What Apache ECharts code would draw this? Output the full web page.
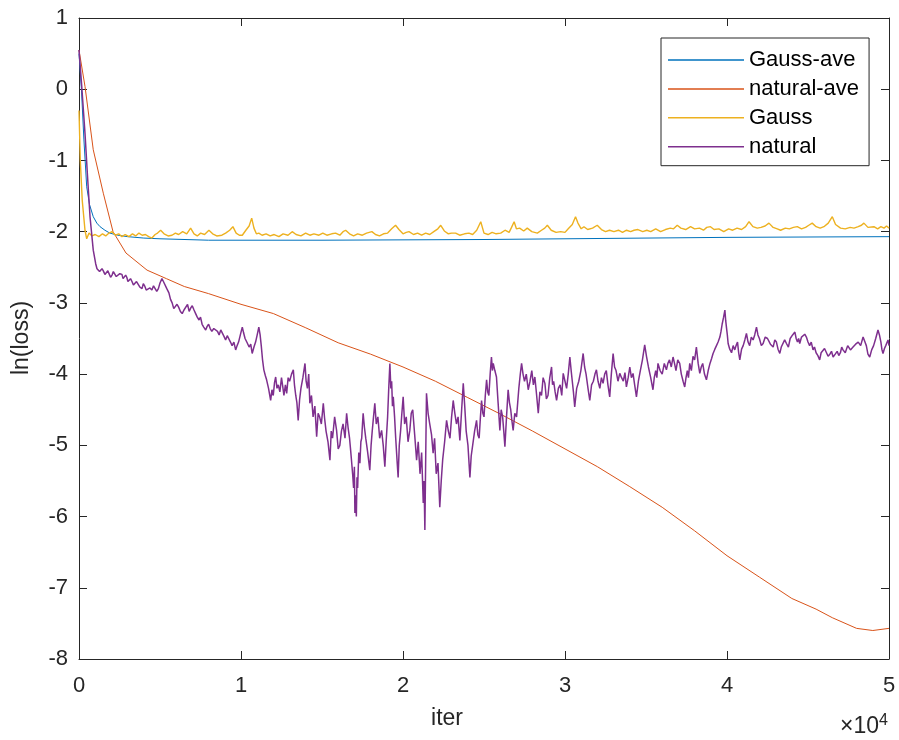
<!DOCTYPE html>
<html>
<head>
<meta charset="utf-8">
<title>ln(loss) vs iter</title>
<script src="https://cdn.jsdelivr.net/npm/echarts@6/dist/echarts.min.js"></script>
<style>
  html, body { margin: 0; padding: 0; background: #ffffff; }
  #chart { width: 899px; height: 740px; }
</style>
</head>
<body>
<div id="chart"></div>
<script>
// Axis ticks
const xTicks = [0, 10000, 20000, 30000, 40000, 50000];
const yTicks = [-8, -7, -6, -5, -4, -3, -2, -1, 0, 1];

// Series names
const seriesNames = ['Gauss-ave', 'natural-ave', 'Gauss', 'natural'];

// Running average of the Gauss loss, [iter, ln(loss)]
const gaussAve = [
  [0, 0.5], [150, 0.0], [300, -0.7], [475, -1.37], [650, -1.62], [880, -1.79],
  [1100, -1.88], [1300, -1.93], [1600, -1.98], [1900, -2.02], [2400, -2.05],
  [3000, -2.07], [4000, -2.09], [5000, -2.1], [8000, -2.12], [15000, -2.12],
  [25000, -2.11], [30000, -2.1], [35000, -2.09], [40000, -2.08], [45000, -2.075],
  [50000, -2.07]
];

// Running average of the natural loss
const naturalAve = [
  [0, 0.55], [370, 0.04], [880, -0.85], [1500, -1.46], [2100, -2.0], [2900, -2.3],
  [4200, -2.54], [5400, -2.66], [6500, -2.77], [8000, -2.87], [10000, -3.02],
  [12000, -3.15], [14000, -3.35], [16000, -3.56], [18000, -3.72], [20000, -3.9],
  [22000, -4.1], [24000, -4.33], [26000, -4.56], [28000, -4.8], [30000, -5.05],
  [32000, -5.3], [34000, -5.58], [36000, -5.87], [38000, -6.2], [40000, -6.55],
  [42000, -6.85], [44000, -7.15], [45500, -7.3], [46500, -7.42], [48000, -7.57],
  [49000, -7.6], [50000, -7.57]
];

// Per-iteration Gauss loss
const gaussLoss = [
  [0, -0.3], [80, -1.0], [200, -1.56], [370, -1.98], [475, -2.1], [620, -2.02], [800, -2.06],
  [1000, -2.04], [1230, -2.07], [1450, -2.03], [1650, -2.06], [1850, -2.02], [2040, -2.0],
  [2250, -2.05], [2450, -2.03], [2650, -2.07], [2850, -2.04], [3090, -2.07], [3300, -2.03],
  [3500, -2.06], [3700, -2.02], [3900, -2.05], [4100, -2.04], [4300, -2.07], [4500, -2.09],
  [4700, -2.04], [4850, -2.02], [5040, -1.98], [5250, -2.03], [5500, -2.06], [5740, -2.05],
  [5950, -2.02], [6150, -2.04], [6400, -2.0], [6650, -2.03], [6890, -1.95], [7100, -2.03],
  [7300, -2.06], [7510, -2.02], [7750, -2.04], [8020, -1.98], [8250, -2.03], [8500, -2.06],
  [8820, -2.05], [9050, -2.02], [9300, -1.98], [9500, -1.93], [9700, -2.02], [9900, -2.05],
  [10080, -2.05], [10300, -1.98], [10500, -1.92], [10660, -1.81], [10800, -1.95], [10950, -2.03],
  [11100, -2.02], [11300, -2.05], [11550, -2.03], [11800, -2.06], [12050, -2.04], [12340, -2.07],
  [12600, -2.03], [12900, -2.05], [13160, -2.0], [13400, -2.04], [13700, -2.06], [13990, -2.02],
  [14250, -2.05], [14500, -2.03], [14810, -2.05], [15050, -2.02], [15300, -2.05], [15600, -2.03],
  [15840, -2.02], [16100, -2.05], [16300, -2.0], [16460, -1.98], [16700, -2.03], [16950, -2.06],
  [17200, -2.03], [17490, -2.05], [17750, -2.02], [18080, -2.0], [18300, -2.04], [18550, -2.06],
  [18800, -2.03], [19050, -2.02], [19300, -1.96], [19540, -1.91], [19750, -1.97], [20000, -2.03],
  [20200, -2.01], [20370, -2.0], [20650, -2.04], [20900, -2.02], [21150, -2.05], [21400, -2.02],
  [21650, -2.04], [21900, -2.0], [22150, -1.96], [22330, -1.91], [22550, -1.99], [22800, -2.03],
  [23000, -2.02], [23250, -2.02], [23500, -2.05], [23800, -2.03], [24070, -2.02], [24300, -2.04],
  [24550, -1.98], [24800, -1.86], [25000, -2.02], [25250, -2.04], [25500, -2.01], [25750, -2.03],
  [26030, -2.02], [26300, -1.98], [26550, -2.01], [26700, -1.94], [26860, -1.86], [27000, -1.96],
  [27200, -1.95], [27450, -1.99], [27670, -1.95], [27950, -2.0], [28290, -2.02], [28550, -1.98],
  [28750, -1.95], [28910, -1.91], [29150, -1.98], [29450, -2.01], [29730, -2.0], [30000, -2.01],
  [30200, -1.96], [30450, -1.9], [30650, -1.79], [30800, -1.88], [31000, -1.96], [31170, -1.93],
  [31400, -1.97], [31700, -1.95], [31990, -1.91], [32250, -1.97], [32500, -2.0], [32750, -1.98],
  [33020, -2.0], [33300, -1.98], [33550, -2.01], [33800, -1.98], [34050, -2.0], [34260, -1.98],
  [34500, -1.97], [34800, -2.0], [35050, -1.98], [35290, -2.0], [35600, -1.96], [35900, -2.0],
  [36200, -1.97], [36500, -1.95], [36700, -1.96], [36930, -1.91], [37150, -1.95], [37450, -1.97],
  [37750, -1.93], [38000, -1.96], [38300, -1.95], [38550, -1.98], [38750, -1.94], [38980, -1.93],
  [39200, -1.97], [39500, -1.96], [39800, -2.0], [40100, -1.96], [40350, -1.98], [40620, -1.95],
  [40900, -1.97], [41150, -1.93], [41360, -1.86], [41600, -1.93], [41870, -1.95], [42100, -1.94],
  [42350, -1.92], [42590, -1.88], [42850, -1.94], [43100, -1.96], [43310, -1.98], [43600, -1.95],
  [43850, -1.96], [44100, -1.94], [44340, -1.93], [44600, -1.96], [44850, -1.94], [45050, -1.91],
  [45260, -1.88], [45500, -1.93], [45750, -1.95], [45980, -1.93], [46250, -1.88], [46500, -1.79],
  [46700, -1.9], [47010, -1.95], [47300, -1.96], [47600, -1.94], [47840, -1.95], [48100, -1.93],
  [48300, -1.91], [48450, -1.88], [48700, -1.94], [49070, -1.93], [49300, -1.96], [49500, -1.93],
  [49690, -1.95], [49850, -1.92], [50000, -1.95]
];

// Per-iteration natural loss
const naturalLoss = [
  [0, 0.55], [150, 0.1], [370, -0.62], [520, -1.2], [680, -1.79], [880, -2.26], [1030, -2.45],
  [1110, -2.52], [1190, -2.5], [1270, -2.56], [1350, -2.58], [1420, -2.52], [1500, -2.55],
  [1600, -2.6], [1700, -2.62], [1780, -2.55], [1850, -2.57], [1950, -2.64], [2040, -2.61],
  [2120, -2.56], [2200, -2.58], [2300, -2.63], [2400, -2.65], [2520, -2.59], [2650, -2.6],
  [2720, -2.66], [2800, -2.68], [2880, -2.61], [2950, -2.64], [3020, -2.7], [3100, -2.72],
  [3180, -2.66], [3270, -2.7], [3360, -2.75], [3450, -2.76], [3550, -2.7], [3650, -2.72],
  [3760, -2.78], [3890, -2.8], [3970, -2.73], [4050, -2.76], [4150, -2.82], [4250, -2.84],
  [4380, -2.79], [4500, -2.82], [4600, -2.76], [4700, -2.78], [4800, -2.84], [4900, -2.8],
  [5000, -2.72], [5120, -2.66], [5210, -2.7], [5300, -2.72], [5420, -2.8], [5550, -2.86],
  [5650, -2.95], [5750, -3.0], [5850, -3.08], [5960, -3.1], [6050, -3.02], [6150, -3.06],
  [6260, -3.12], [6370, -3.15], [6480, -3.1], [6600, -3.08], [6700, -3.02], [6800, -3.12],
  [6900, -3.07], [6990, -3.04], [7100, -3.1], [7200, -3.15], [7300, -3.2], [7410, -3.24],
  [7500, -3.2], [7600, -3.3], [7700, -3.34], [7820, -3.38], [7910, -3.33], [8000, -3.3],
  [8100, -3.36], [8200, -3.4], [8320, -3.36], [8440, -3.34], [8550, -3.4], [8650, -3.45],
  [8750, -3.38], [8850, -3.4], [8950, -3.47], [9050, -3.52], [9150, -3.46], [9250, -3.48],
  [9350, -3.55], [9450, -3.6], [9560, -3.55], [9670, -3.66], [9760, -3.6], [9850, -3.55],
  [9960, -3.45], [10080, -3.34], [10160, -3.42], [10250, -3.5], [10380, -3.56], [10500, -3.62],
  [10600, -3.58], [10690, -3.71], [10800, -3.62], [10900, -3.55], [11000, -3.45], [11100, -3.34],
  [11180, -3.45], [11250, -3.6], [11330, -3.8], [11410, -3.94], [11500, -4.02], [11580, -4.08],
  [11700, -4.2], [11830, -4.37], [11910, -4.22], [11990, -4.3], [12070, -4.12], [12140, -4.04],
  [12220, -4.2], [12300, -4.15], [12400, -4.25], [12500, -4.05], [12580, -4.18], [12650, -4.3],
  [12740, -4.15], [12820, -4.27], [12910, -4.05], [13000, -4.1], [13120, -4.0], [13230, -3.94],
  [13300, -4.15], [13380, -4.3], [13450, -4.4], [13530, -4.65], [13620, -4.35], [13700, -4.2],
  [13820, -4.05], [13950, -3.85], [14020, -4.1], [14100, -4.2], [14180, -4.0], [14250, -4.41],
  [14350, -4.3], [14450, -4.6], [14560, -4.45], [14670, -4.88], [14760, -4.55], [14850, -4.6],
  [14960, -4.7], [15080, -4.41], [15160, -4.62], [15250, -4.8], [15370, -4.95], [15490, -5.21],
  [15570, -4.8], [15650, -4.9], [15780, -4.6], [15900, -4.79], [16000, -5.05], [16100, -5.0],
  [16200, -4.8], [16300, -4.7], [16420, -4.9], [16520, -4.55], [16610, -4.75], [16700, -4.9],
  [16760, -5.05], [16820, -5.21], [16890, -5.4], [16950, -5.6], [17000, -5.3], [17030, -5.95],
  [17080, -5.7], [17120, -6.0], [17160, -5.45], [17200, -5.6], [17270, -5.1], [17340, -5.25],
  [17400, -4.95], [17450, -4.9], [17500, -4.7], [17540, -4.55], [17620, -4.75], [17700, -4.9],
  [17820, -5.1], [17950, -5.35], [18030, -5.0], [18100, -4.8], [18180, -4.6], [18260, -4.41],
  [18350, -4.7], [18450, -4.6], [18560, -4.9], [18680, -4.79], [18780, -5.0], [18880, -5.3],
  [18960, -4.95], [19050, -4.6], [19120, -4.2], [19190, -3.85], [19250, -4.2], [19300, -4.1],
  [19350, -4.45], [19400, -4.32], [19480, -4.6], [19550, -4.9], [19630, -5.2], [19700, -5.45],
  [19770, -5.0], [19850, -4.8], [19930, -4.55], [20010, -4.32], [20100, -4.7], [20200, -4.6],
  [20310, -4.95], [20420, -4.79], [20510, -4.55], [20600, -4.5], [20720, -4.85], [20840, -5.21],
  [20940, -4.95], [21050, -5.4], [21150, -5.1], [21250, -5.81], [21300, -5.5], [21350, -6.19],
  [21400, -5.2], [21450, -4.27], [21550, -4.55], [21650, -4.7], [21760, -4.85], [21860, -5.11],
  [21950, -4.9], [22050, -5.4], [22160, -5.25], [22270, -5.87], [22360, -5.5], [22450, -5.2],
  [22570, -4.95], [22690, -4.65], [22800, -4.8], [22900, -4.9], [23000, -4.6], [23100, -4.37],
  [23200, -4.55], [23300, -4.7], [23400, -4.6], [23510, -4.93], [23620, -4.5], [23720, -4.13],
  [23810, -4.45], [23900, -4.8], [24010, -5.0], [24130, -5.45], [24210, -5.15], [24300, -5.0],
  [24420, -4.8], [24540, -4.65], [24620, -4.85], [24700, -4.9], [24780, -4.6], [24850, -4.37],
  [24930, -4.55], [25000, -4.6], [25080, -4.3], [25160, -4.08], [25230, -4.25], [25300, -4.3],
  [25380, -4.0], [25460, -3.76], [25520, -3.95], [25570, -3.85], [25670, -3.95], [25770, -4.04],
  [25870, -4.4], [25980, -4.79], [26060, -4.5], [26150, -4.6], [26220, -4.8], [26290, -5.02],
  [26390, -4.6], [26490, -4.22], [26570, -4.4], [26650, -4.5], [26720, -4.65], [26800, -4.79],
  [26900, -4.55], [27010, -4.6], [27080, -4.4], [27150, -4.2], [27240, -4.0], [27320, -3.85],
  [27410, -4.0], [27500, -4.1], [27610, -4.0], [27730, -4.22], [27840, -4.1], [27950, -3.95],
  [28050, -4.15], [28140, -4.04], [28250, -4.3], [28350, -4.55], [28450, -4.25], [28550, -4.3],
  [28650, -4.05], [28760, -4.13], [28850, -4.35], [28950, -4.3], [29060, -4.05], [29170, -3.9],
  [29230, -4.15], [29300, -4.1], [29390, -4.25], [29480, -4.37], [29590, -4.2], [29700, -4.15],
  [29800, -4.3], [29890, -3.99], [30000, -4.1], [30100, -4.2], [30200, -4.0], [30300, -3.76],
  [30380, -3.95], [30450, -4.1], [30520, -4.25], [30600, -4.46], [30720, -4.2], [30850, -4.1],
  [30980, -3.95], [31120, -3.71], [31210, -3.9], [31300, -4.0], [31420, -4.2], [31530, -4.37],
  [31640, -4.15], [31750, -4.1], [31850, -4.0], [31940, -3.94], [32040, -4.1], [32150, -4.2],
  [32250, -4.05], [32350, -4.13], [32450, -4.0], [32550, -3.95], [32650, -4.15], [32760, -4.32],
  [32860, -4.0], [32970, -3.71], [33060, -3.9], [33150, -3.95], [33270, -4.1], [33380, -3.99],
  [33490, -4.05], [33600, -4.1], [33700, -3.98], [33790, -4.18], [33900, -4.05], [34000, -3.9],
  [34100, -4.05], [34200, -3.99], [34300, -4.15], [34410, -4.32], [34530, -4.1], [34650, -3.95],
  [34780, -3.8], [34920, -3.59], [35030, -3.75], [35150, -3.9], [35290, -4.05], [35430, -4.22],
  [35510, -4.05], [35600, -3.95], [35670, -4.05], [35740, -3.85], [35870, -3.95], [36000, -4.0],
  [36130, -3.85], [36260, -3.94], [36350, -3.85], [36450, -3.8], [36560, -3.9], [36670, -3.76],
  [36760, -3.85], [36850, -3.95], [36960, -3.8], [37080, -3.85], [37180, -4.0], [37290, -4.1],
  [37390, -4.18], [37470, -4.05], [37550, -3.95], [37620, -4.05], [37700, -3.85], [37800, -3.95],
  [37900, -3.75], [38000, -3.8], [38110, -3.62], [38220, -3.85], [38320, -3.99], [38410, -3.9],
  [38500, -3.85], [38610, -4.0], [38730, -4.08], [38840, -3.95], [38950, -3.85], [39050, -3.78],
  [39140, -3.71], [39250, -3.65], [39350, -3.6], [39450, -3.55], [39560, -3.48], [39630, -3.4],
  [39700, -3.3], [39790, -3.2], [39870, -3.1], [39920, -3.25], [39970, -3.35], [40020, -3.45],
  [40070, -3.57], [40170, -3.65], [40280, -3.7], [40380, -3.6], [40480, -3.66], [40560, -3.6],
  [40650, -3.55], [40720, -3.7], [40790, -3.8], [40900, -3.65], [41000, -3.6], [41100, -3.52],
  [41200, -3.43], [41300, -3.55], [41400, -3.6], [41500, -3.48], [41610, -3.52], [41710, -3.45],
  [41820, -3.34], [41910, -3.45], [42000, -3.5], [42120, -3.6], [42230, -3.57], [42360, -3.48],
  [42500, -3.5], [42680, -3.58], [42850, -3.62], [42950, -3.52], [43050, -3.55], [43150, -3.65],
  [43260, -3.71], [43350, -3.62], [43450, -3.6], [43560, -3.52], [43670, -3.57], [43790, -3.62],
  [43900, -3.5], [44050, -3.45], [44190, -3.41], [44270, -3.5], [44350, -3.55], [44420, -3.5],
  [44490, -3.57], [44600, -3.48], [44700, -3.5], [44800, -3.44], [44900, -3.48], [45000, -3.55],
  [45100, -3.6], [45200, -3.55], [45310, -3.66], [45400, -3.62], [45500, -3.7], [45610, -3.74],
  [45720, -3.8], [45810, -3.7], [45900, -3.72], [46020, -3.64], [46140, -3.66], [46240, -3.75],
  [46350, -3.72], [46450, -3.68], [46550, -3.76], [46680, -3.72], [46800, -3.68], [46900, -3.74],
  [47000, -3.7], [47080, -3.62], [47160, -3.66], [47300, -3.7], [47450, -3.6], [47620, -3.66],
  [47780, -3.62], [47940, -3.58], [48100, -3.55], [48250, -3.6], [48400, -3.48], [48500, -3.54],
  [48600, -3.6], [48700, -3.72], [48810, -3.76], [48930, -3.66], [49050, -3.6], [49180, -3.5],
  [49320, -3.38], [49410, -3.45], [49500, -3.55], [49560, -3.65], [49630, -3.71], [49720, -3.64],
  [49800, -3.6], [49870, -3.56], [49940, -3.52], [50000, -3.6]
];

const FONT = '"Liberation Sans", Arial, Helvetica, sans-serif';
const AXIS_COLOR = '#262626';
const LINE_COLORS = ['#0072BD', '#D95319', '#EDB120', '#7E2F8E'];
const LINE_WIDTHS = [1, 1, 1.4, 1.5];

const chart = echarts.init(document.getElementById('chart'), null, { renderer: 'canvas' });

function boxAxis(extra) {
  return Object.assign({
    type: 'value',
    axisLine: { show: true, onZero: false, lineStyle: { color: AXIS_COLOR, width: 1 } },
    axisTick: { show: true, inside: true, length: 8, lineStyle: { color: AXIS_COLOR, width: 1 } },
    splitLine: { show: false },
    axisLabel: { show: false }
  }, extra);
}

const xRange = { min: xTicks[0], max: xTicks[xTicks.length - 1], interval: xTicks[1] - xTicks[0] };
const yRange = { min: yTicks[0], max: yTicks[yTicks.length - 1], interval: yTicks[1] - yTicks[0] };

const option = {
  backgroundColor: '#ffffff',
  animation: false,
  grid: { left: 79, top: 18, right: 10, bottom: 81, containLabel: false },
  legend: {
    orient: 'vertical',
    left: 661,
    top: 38,
    data: seriesNames,
    icon: 'rect',
    itemWidth: 76,
    itemHeight: 1.5,
    itemGap: 6.9,
    padding: [11, 10, 8, 7],
    borderColor: AXIS_COLOR,
    borderWidth: 1,
    backgroundColor: '#ffffff',
    textStyle: { fontFamily: FONT, fontSize: 22, color: '#000000' }
  },
  xAxis: [
    boxAxis(Object.assign({
      position: 'bottom',
      axisLabel: {
        show: true, margin: 16, fontFamily: FONT, fontSize: 22, color: AXIS_COLOR,
        formatter: v => String(v / 10000)
      }
    }, xRange)),
    boxAxis(Object.assign({ position: 'top' }, xRange))
  ],
  yAxis: [
    boxAxis(Object.assign({
      position: 'left',
      axisLabel: { show: true, margin: 11, fontFamily: FONT, fontSize: 22, color: AXIS_COLOR }
    }, yRange)),
    boxAxis(Object.assign({ position: 'right' }, yRange))
  ],
  graphic: [
    {
      type: 'text', x: 447, y: 719,
      style: { text: 'iter', font: '23px ' + FONT, fill: AXIS_COLOR, align: 'center', verticalAlign: 'middle' }
    },
    {
      type: 'text', x: 22, y: 338, rotation: Math.PI / 2,
      style: { text: 'ln(loss)', font: '23px ' + FONT, fill: AXIS_COLOR, align: 'center', verticalAlign: 'middle' }
    },
    {
      type: 'text', x: 879, y: 727,
      style: { text: '×10', font: '23px ' + FONT, fill: AXIS_COLOR, align: 'right', verticalAlign: 'middle' }
    },
    {
      type: 'text', x: 879, y: 713,
      style: { text: '4', font: '16px ' + FONT, fill: AXIS_COLOR, align: 'left', verticalAlign: 'top' }
    }
  ],
  series: [gaussAve, naturalAve, gaussLoss, naturalLoss].map((data, i) => ({
    type: 'line',
    name: seriesNames[i],
    data: data,
    xAxisIndex: 0,
    yAxisIndex: 0,
    showSymbol: false,
    symbol: 'none',
    sampling: null,
    color: LINE_COLORS[i],
    lineStyle: { color: LINE_COLORS[i], width: LINE_WIDTHS[i] },
    emphasis: { disabled: true }
  }))
};

chart.setOption(option);
</script>
</body>
</html>
